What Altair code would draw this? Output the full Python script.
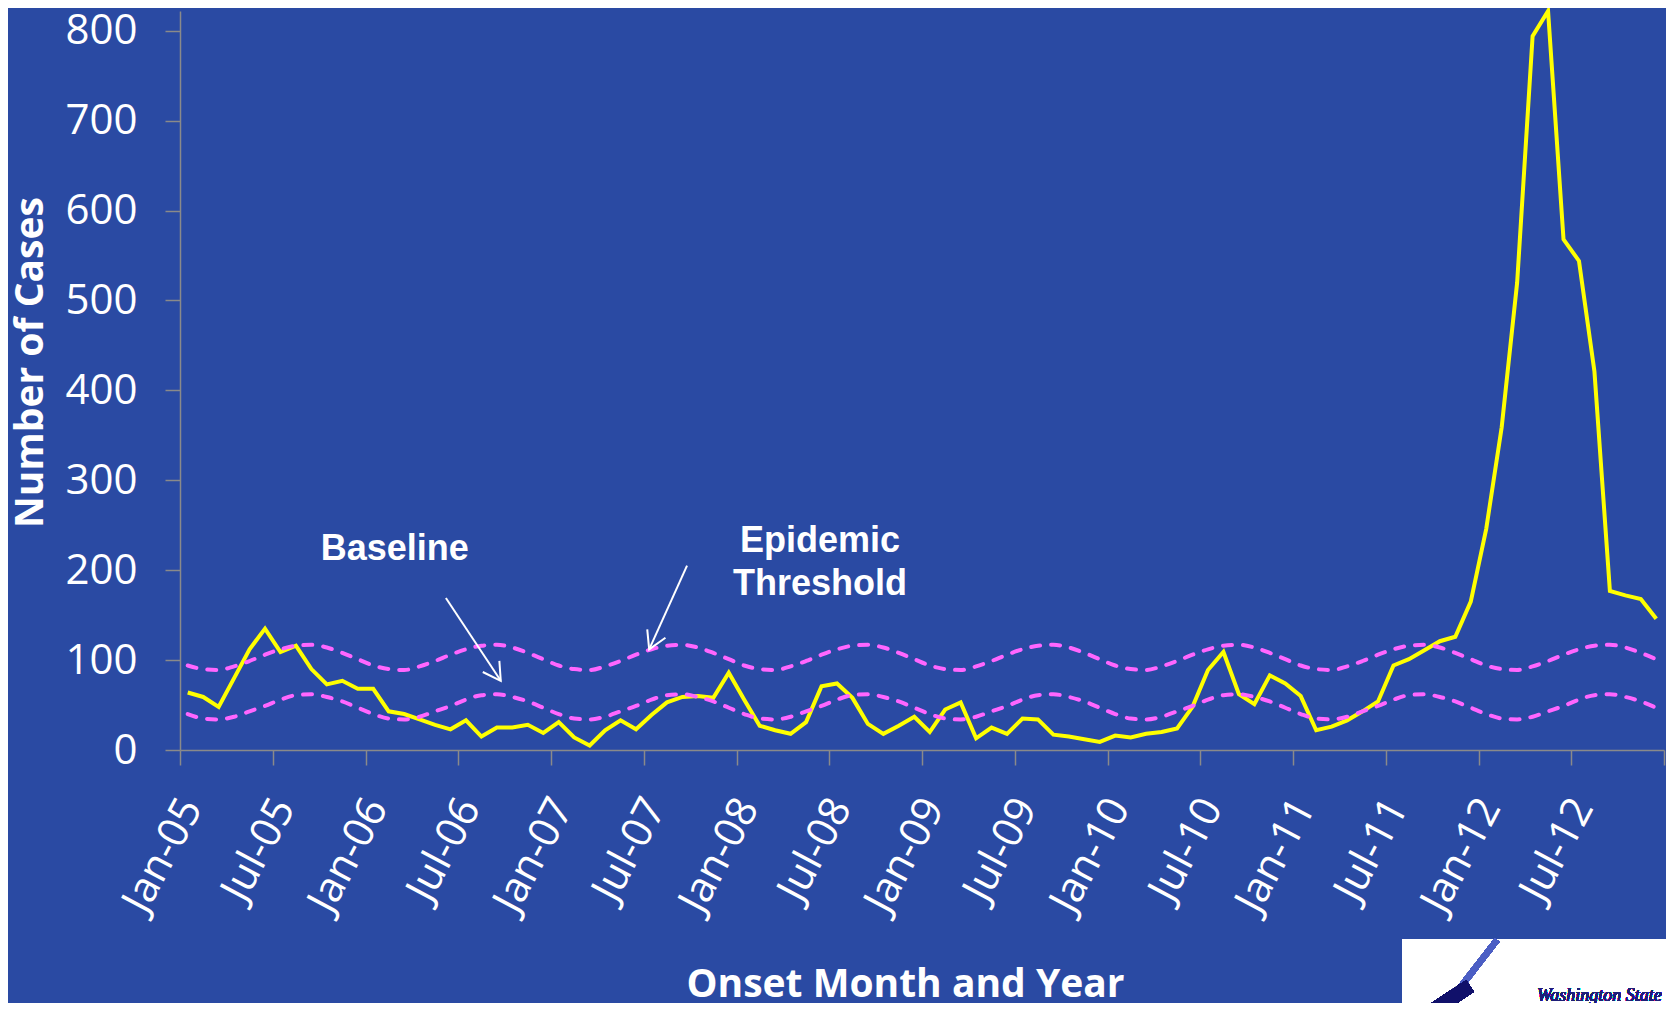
import json
import altair as alt
import pandas as pd

# ---------------- data ----------------
tick_labels = ["Jan-05", "Jul-05", "Jan-06", "Jul-06", "Jan-07", "Jul-07",
               "Jan-08", "Jul-08", "Jan-09", "Jul-09", "Jan-10", "Jul-10",
               "Jan-11", "Jul-11", "Jan-12", "Jul-12"]

# monthly reported cases, Jan-05 .. Dec-12
cases = [
    64, 59, 48, 80, 112, 135, 109, 116, 90, 73, 77, 68,      # 2005
    68, 43, 40, 34, 28, 23, 33, 15, 25, 25, 28, 19,          # 2006
    31, 14, 5, 22, 33, 23, 39, 53, 59, 60, 58, 86,           # 2007
    56, 27, 22, 18, 31, 71, 74, 58, 29, 18, 27, 37,          # 2008
    20, 45, 53, 13, 25, 18, 35, 34, 17, 15, 12, 9,           # 2009
    16, 14, 18, 20, 24, 48, 89, 109, 62, 51, 83, 74,         # 2010
    60, 22, 26, 33, 43, 54, 94, 101, 111, 121, 126, 165,     # 2011
    246, 359, 520, 794, 822, 568, 544, 421, 177, 172, 168, 146,  # 2012
]

baseline = [
    40, 35, 34, 37, 43, 49, 56, 61, 62, 59, 54, 47,
    40, 35, 34, 37, 43, 49, 56, 61, 62, 59, 54, 47,
    40, 35, 34, 37, 43, 49, 56, 61, 62, 59, 54, 47,
    40, 35, 34, 37, 43, 49, 56, 61, 62, 59, 54, 47,
    40, 35, 34, 37, 43, 49, 56, 61, 62, 59, 54, 47,
    40, 35, 34, 37, 43, 49, 56, 61, 62, 59, 54, 47,
    40, 35, 34, 37, 43, 49, 56, 61, 62, 59, 54, 47,
    40, 35, 34, 37, 43, 49, 56, 61, 62, 59, 54, 47,
]

threshold = [
    94, 90, 89, 93, 99, 106, 112, 116, 117, 114, 108, 101,
    94, 90, 89, 93, 99, 106, 112, 116, 117, 114, 108, 101,
    94, 90, 89, 93, 99, 106, 112, 116, 117, 114, 108, 101,
    94, 90, 89, 93, 99, 106, 112, 116, 117, 114, 108, 101,
    94, 90, 89, 93, 99, 106, 112, 116, 117, 114, 108, 101,
    94, 90, 89, 93, 99, 106, 112, 116, 117, 114, 108, 101,
    94, 90, 89, 93, 99, 106, 112, 116, 117, 114, 108, 101,
    94, 90, 89, 93, 99, 106, 112, 116, 117, 114, 108, 101,
]

# annotation labels (month index, cases)
note_text = ["Baseline", "Epidemic", "Threshold"]
note_x = [9.1, 41.4, 41.4]
note_y = [211, 220, 172]
note_align = ["left", "center", "center"]

# arrows: start (x, y) -> tip (x2, y2), in month index / cases
arrow_x = [17.2, 32.8]
arrow_y = [169, 205]
arrow_x2 = [20.75, 30.35]
arrow_y2 = [77, 112]
arrow_angle = [146, 204.5]

# ---------------- styling ----------------
BG = "#2A4AA3"
AXIS_GRAY = "#8A8A8A"
YELLOW = "#FFFF00"
PINK = "#FF66FF"

n = len(cases)
df = pd.DataFrame({
    "m": [i + 0.5 for i in range(n)],
    "cases": cases,
    "baseline": baseline,
    "threshold": threshold,
})
notes = pd.DataFrame({"x": note_x, "y": note_y, "t": note_text, "a": note_align})
arrows = pd.DataFrame({"x": arrow_x, "y": arrow_y, "x2": arrow_x2,
                       "y2": arrow_y2, "ang": arrow_angle})

label_expr = ("datum.value < 96 ? " + json.dumps(tick_labels).replace('"', "'")
              + "[round(datum.value / 6)] : ''")

xscale = alt.Scale(domain=[0, 96], nice=False, zero=False)
yscale = alt.Scale(domain=[0, 822], nice=False)

x_axis = alt.Axis(
    values=list(range(0, 97, 6)), labelExpr=label_expr,
    labelAngle=-62, labelAlign="right", labelBaseline="middle",
    labelFont="Open Sans", labelFontSize=42, labelColor="white",
    labelPadding=36, labelOffset=11, labelOverlap=False, labelFlush=False,
    tickSize=15, tickColor=AXIS_GRAY, tickWidth=1.5,
    domainColor=AXIS_GRAY, domainWidth=1.5, grid=False,
    title="Onset Month and Year", titleFont="Open Sans", titleFontWeight="bold",
    titleFontSize=39, titleColor="white", titleX=725, titleY=246,
    titleAlign="center", titleBaseline="alphabetic",
)
y_axis = alt.Axis(
    values=list(range(0, 801, 100)),
    labelFont="Open Sans", labelFontSize=42, labelColor="white",
    labelPadding=28, tickSize=15, tickColor=AXIS_GRAY, tickWidth=1.5,
    domainColor=AXIS_GRAY, domainWidth=1.5, grid=False,
    title="Number of Cases", titleFont="Open Sans", titleFontWeight="bold",
    titleFontSize=39, titleColor="white", titleX=-150, titleY=351,
    titleAngle=-90, titleAlign="center", titleBaseline="middle",
)

base = alt.Chart(df)

cases_line = base.mark_line(color=YELLOW, strokeWidth=4, strokeJoin="miter").encode(
    x=alt.X("m:Q", scale=xscale, axis=x_axis),
    y=alt.Y("cases:Q", scale=yscale, axis=y_axis),
)
base_line = base.mark_line(color=PINK, strokeWidth=4, strokeDash=[9, 11],
                           strokeCap="round", interpolate="monotone").encode(
    x=alt.X("m:Q", scale=xscale), y=alt.Y("baseline:Q", scale=yscale))
thr_line = base.mark_line(color=PINK, strokeWidth=4, strokeDash=[9, 11],
                          strokeCap="round", interpolate="monotone").encode(
    x=alt.X("m:Q", scale=xscale), y=alt.Y("threshold:Q", scale=yscale))

note_left = alt.Chart(notes).transform_filter("datum.a == 'left'").mark_text(
    font="Liberation Sans", fontWeight="bold", fontSize=36, color="white",
    baseline="alphabetic", align="left").encode(
    x=alt.X("x:Q", scale=xscale), y=alt.Y("y:Q", scale=yscale), text="t:N")
note_center = alt.Chart(notes).transform_filter("datum.a == 'center'").mark_text(
    font="Liberation Sans", fontWeight="bold", fontSize=36, color="white",
    baseline="alphabetic", align="center").encode(
    x=alt.X("x:Q", scale=xscale), y=alt.Y("y:Q", scale=yscale), text="t:N")

arrow_lines = alt.Chart(arrows).mark_rule(color="white", strokeWidth=2).encode(
    x=alt.X("x:Q", scale=xscale), y=alt.Y("y:Q", scale=yscale),
    x2="x2:Q", y2="y2:Q")
arrow_heads = alt.Chart(arrows).mark_point(
    shape="M-0.5,0.866L0,0L0.5,0.866", filled=False, color="white",
    strokeWidth=2, size=1600, opacity=1).encode(
    x=alt.X("x2:Q", scale=xscale), y=alt.Y("y2:Q", scale=yscale),
    angle=alt.Angle("ang:Q", scale=None))

# logo corner (decorative)
logo_box = alt.Chart(df).mark_rect(color="white").encode(
    x=alt.value(1222), x2=alt.value(1500), y=alt.value(928), y2=alt.value(1010))
logo_quill = alt.Chart(df).mark_rule(color="#4B5EC4", strokeWidth=6).encode(
    x=alt.value(1317), x2=alt.value(1262), y=alt.value(929), y2=alt.value(1000))
logo_wing = alt.Chart(df).mark_rule(color="#10106A", strokeWidth=14).encode(
    x=alt.value(1252), x2=alt.value(1290), y=alt.value(1000), y2=alt.value(975))
logo_text = alt.Chart(df).mark_text(
    text="Washington State", font="Liberation Serif", fontStyle="italic",
    fontSize=18, color="#1E1E78", align="left", baseline="alphabetic").encode(
    x=alt.value(1357), y=alt.value(990))

chart = alt.layer(
    cases_line, base_line, thr_line, note_left, note_center, arrow_lines,
    arrow_heads, logo_box, logo_quill, logo_wing, logo_text,
).properties(
    width=1484, height=739,
    padding={"left": 172, "top": 3, "right": 2, "bottom": 253},
    autosize="none",
    background=BG,
).configure_view(stroke=None)

chart.save("out.html", embed_options={"renderer": "svg", "actions": False})
